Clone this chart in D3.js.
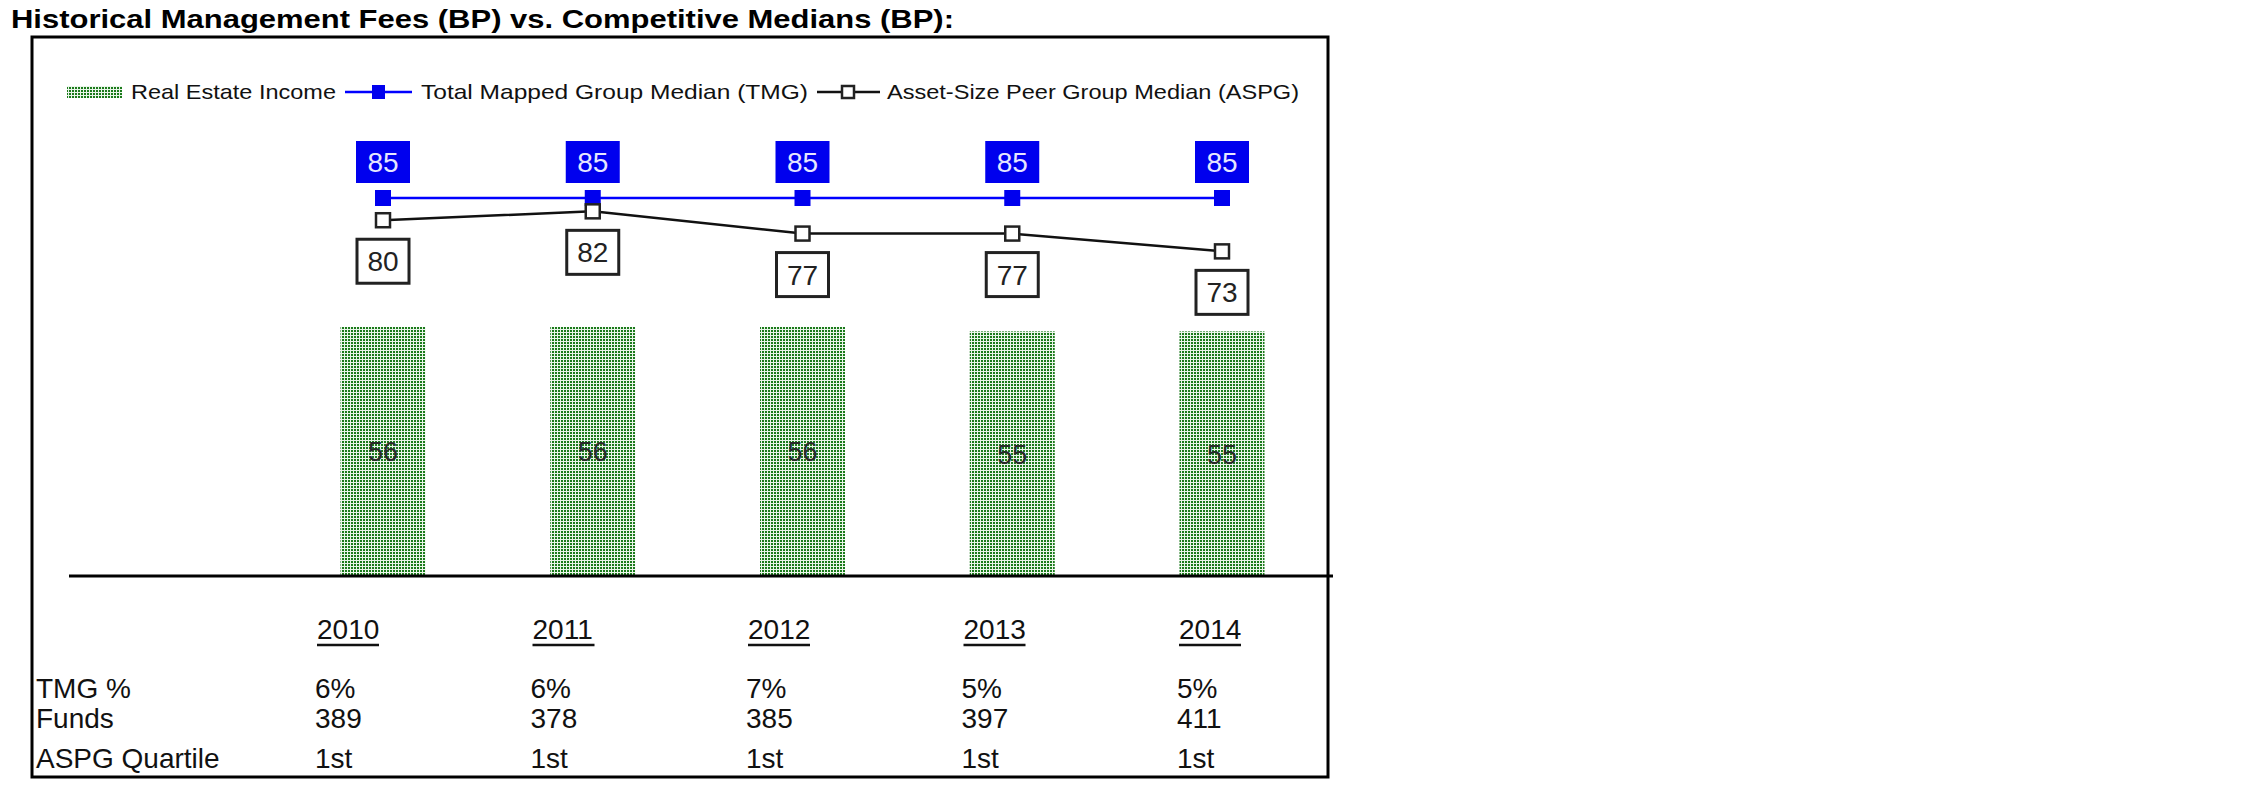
<!DOCTYPE html>
<html><head><meta charset="utf-8">
<script src="https://cdn.jsdelivr.net/npm/d3@7"></script>
<style>body{margin:0;background:#fff} svg{display:block}</style>
</head><body>
<svg id="chart" width="2251" height="798"></svg>
<script>
// ---- data ----
const years = ["2010","2011","2012","2013","2014"];
const realEstateIncome = [56,56,56,55,55];
const tmgMedian = [85,85,85,85,85];
const aspgMedian = [80,82,77,77,73];
const tmgPct = ["6%","6%","7%","5%","5%"];
const funds = ["389","378","385","397","411"];
const aspgQuartile = ["1st","1st","1st","1st","1st"];
const rowLabels = ["TMG %","Funds","ASPG Quartile"];
const seriesNames = ["Real Estate Income","Total Mapped Group Median (TMG)","Asset-Size Peer Group Median (ASPG)"];
const titleText = "Historical Management Fees (BP) vs. Competitive Medians (BP):";

// ---- setup ----
const FONT = "'Liberation Sans', Arial, sans-serif";
const svg = d3.select("#chart");
const defs = svg.append("defs");
const pat = defs.append("pattern").attr("id","dots").attr("patternUnits","userSpaceOnUse")
  .attr("width",3).attr("height",3);
pat.append("rect").attr("width",3).attr("height",3).attr("fill","#eaf5ea");
pat.append("rect").attr("width",2).attr("height",2).attr("fill","#1b7a1b");

const x = d3.scalePoint().domain(years).range([383, 1222]);
const y = d3.scaleLinear().domain([0, 85]).range([576, 198]);
const xt = d3.scalePoint().domain(years).range([313, 1175]);

// title
svg.append("text").attr("x",11).attr("y",28).text(titleText)
  .attr("font-family",FONT).attr("font-weight","bold").attr("font-size",25)
  .attr("textLength",943).attr("lengthAdjust","spacingAndGlyphs").attr("fill","#000");

// frame
svg.append("rect").attr("x",32).attr("y",37).attr("width",1296).attr("height",740)
  .attr("fill","none").attr("stroke","#000").attr("stroke-width",3);

// legend
const lg = svg.append("g").attr("font-family",FONT).attr("font-size",21).attr("fill","#111");
const ly = 92;
lg.append("rect").attr("x",67).attr("y",ly-6).attr("width",55).attr("height",12).attr("fill","url(#dots)");
lg.append("text").attr("x",131).attr("y",ly+7).text(seriesNames[0]).attr("textLength",205).attr("lengthAdjust","spacingAndGlyphs");
lg.append("line").attr("x1",345).attr("x2",412).attr("y1",ly).attr("y2",ly).attr("stroke","#0000ff").attr("stroke-width",2.5);
lg.append("rect").attr("x",372).attr("y",ly-7).attr("width",13).attr("height",14).attr("fill","#0000ee");
lg.append("text").attr("x",421).attr("y",ly+7).text(seriesNames[1]).attr("textLength",387).attr("lengthAdjust","spacingAndGlyphs");
lg.append("line").attr("x1",817).attr("x2",880).attr("y1",ly).attr("y2",ly).attr("stroke","#111").attr("stroke-width",2.5);
lg.append("rect").attr("x",842).attr("y",ly-6).attr("width",12).attr("height",12).attr("fill","#fff").attr("stroke","#222").attr("stroke-width",2.5);
lg.append("text").attr("x",887).attr("y",ly+7).text(seriesNames[2]).attr("textLength",412).attr("lengthAdjust","spacingAndGlyphs");

// bars
const barW = 85;
svg.append("g").selectAll("rect").data(years).join("rect")
  .attr("x",d=>x(d)-barW/2).attr("width",barW)
  .attr("y",(d,i)=>y(realEstateIncome[i])).attr("height",(d,i)=>y(0)-y(realEstateIncome[i]))
  .attr("fill","url(#dots)");
svg.append("g").selectAll("text").data(years).join("text")
  .attr("x",d=>x(d)).attr("y",(d,i)=>(y(realEstateIncome[i])+y(0))/2+10)
  .attr("text-anchor","middle").attr("font-family",FONT).attr("font-size",27).attr("fill","#2a2a2a")
  .text((d,i)=>realEstateIncome[i]);

// axis line
svg.append("line").attr("x1",69).attr("x2",1333).attr("y1",y(0)).attr("y2",y(0))
  .attr("stroke","#000").attr("stroke-width",3);

// lines
const line = d3.line().x(d=>x(d.year)).y(d=>y(d.v));
const tmgData = years.map((yr,i)=>({year:yr, v:tmgMedian[i]}));
const aspgData = years.map((yr,i)=>({year:yr, v:aspgMedian[i]}));
svg.append("path").datum(tmgData).attr("d",line).attr("fill","none").attr("stroke","#0000ff").attr("stroke-width",2.5);
svg.append("path").datum(aspgData).attr("d",line).attr("fill","none").attr("stroke","#111").attr("stroke-width",2.5);

const ms = 16;
svg.append("g").selectAll("rect").data(tmgData).join("rect")
  .attr("x",d=>x(d.year)-ms/2).attr("y",d=>y(d.v)-ms/2).attr("width",ms).attr("height",ms).attr("fill","#0000ee");
const hs = 14;
svg.append("g").selectAll("rect").data(aspgData).join("rect")
  .attr("x",d=>x(d.year)-hs/2).attr("y",d=>y(d.v)-hs/2).attr("width",hs).attr("height",hs)
  .attr("fill","#fff").attr("stroke","#222").attr("stroke-width",2.5);

// TMG labels (above)
const bw = 54, bh = 42;
const tl = svg.append("g").selectAll("g").data(tmgData).join("g")
  .attr("transform",d=>`translate(${x(d.year)},${y(d.v)-36})`);
tl.append("rect").attr("x",-bw/2).attr("y",-bh/2).attr("width",bw).attr("height",bh).attr("fill","#0000ee");
tl.append("text").attr("text-anchor","middle").attr("y",10).attr("font-family",FONT).attr("font-size",28)
  .attr("fill","#e6e6ff").text(d=>d.v);

// ASPG labels (below)
const al = svg.append("g").selectAll("g").data(aspgData).join("g")
  .attr("transform",d=>`translate(${x(d.year)},${y(d.v)+41})`);
al.append("rect").attr("x",-26).attr("y",-22).attr("width",52).attr("height",44)
  .attr("fill","#fff").attr("stroke","#222").attr("stroke-width",3);
al.append("text").attr("text-anchor","middle").attr("y",10).attr("font-family",FONT).attr("font-size",28)
  .attr("fill","#222").text(d=>d.v);

// table
const tg = svg.append("g").attr("font-family",FONT).attr("font-size",28).attr("fill","#111");
tg.selectAll("text.yr").data(years).join("text").attr("class","yr")
  .attr("x",d=>xt(d)+4).attr("y",639).text(d=>d);
tg.selectAll("line.ul").data(years).join("line").attr("class","ul")
  .attr("x1",d=>xt(d)+4).attr("x2",d=>xt(d)+4+62).attr("y1",645).attr("y2",645)
  .attr("stroke","#111").attr("stroke-width",2.5);
const rowsY = [698, 728, 768];
const rows = [tmgPct, funds, aspgQuartile];
tg.selectAll("text.rl").data(rowLabels).join("text").attr("class","rl")
  .attr("x",36).attr("y",(d,i)=>rowsY[i]).text(d=>d);
rows.forEach((row,ri)=>{
  tg.append("g").selectAll("text").data(row).join("text")
    .attr("x",(d,i)=>xt(years[i])+2).attr("y",rowsY[ri]).text(d=>d);
});
</script>
</body></html>
